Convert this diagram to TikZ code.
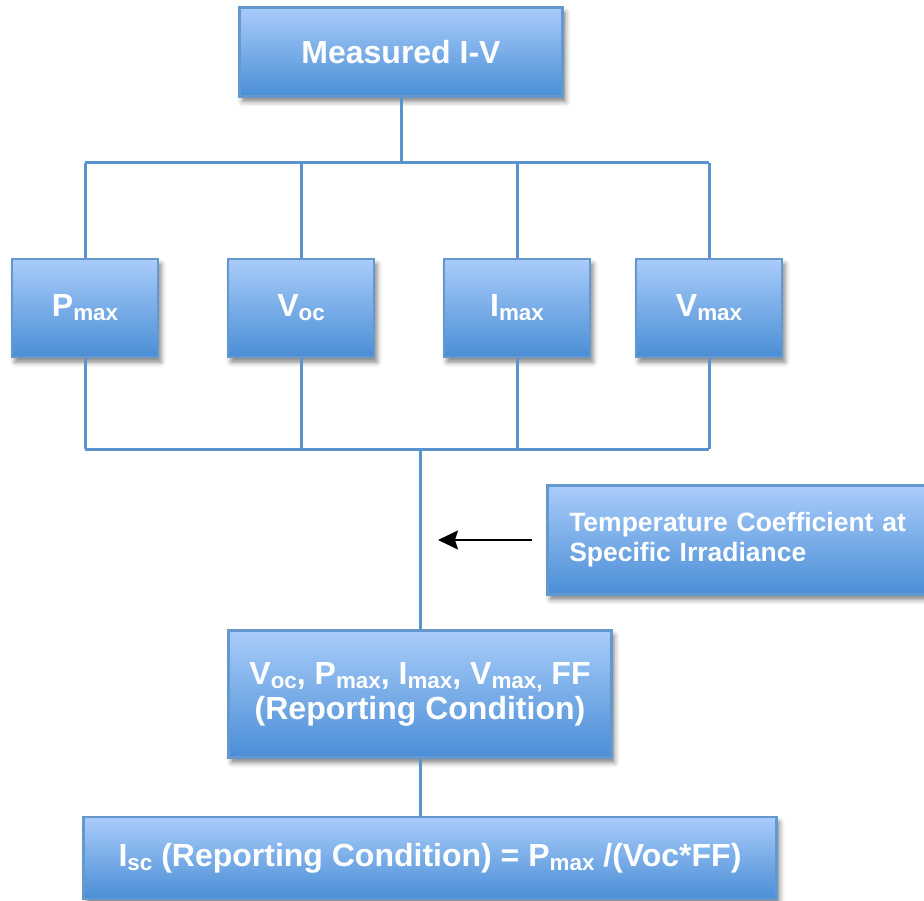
\documentclass[tikz,border=0pt]{standalone}
\usepackage{fontspec}
\setmainfont{Liberation Sans}
\usepackage{xcolor}
\usetikzlibrary{positioning, arrows.meta, shadows.blur}

\definecolor{boxtop}{HTML}{A9CCFA}
\definecolor{boxmid}{HTML}{7FAAE0}
\definecolor{boxbot}{HTML}{4A8ED6}
\definecolor{boxedge}{HTML}{6598CC}
\definecolor{linkblue}{HTML}{5B93CF}

\newcommand{\low}[1]{\raisebox{-0.13em}{\scalebox{0.7}{#1}}}

\begin{document}
\begin{tikzpicture}[x=1pt,y=-1pt,on grid,
    box/.style={draw=boxedge,line width=2.5pt,top color=boxtop,middle color=boxmid,bottom color=boxbot,
      blur shadow={shadow xshift=3pt,shadow yshift=-5pt,shadow blur radius=5pt,shadow opacity=50},
      text=white,font=\bfseries\fontsize{32}{35}\selectfont,inner sep=0pt,align=center},
    param/.style={box,minimum width=146pt,minimum height=98pt},
    link/.style={draw=linkblue,line width=3pt}]
  \useasboundingbox (0,0) rectangle (924,901);

  \node[box,minimum width=323pt,minimum height=89pt] (iv) at (401,52) {Measured I-V};

  \node[param] (pmax) at (85,308) {P\low{max}};
  \node[param] (voc) [right=216pt of pmax] {V\low{oc}};
  \node[param] (imax) [right=216pt of voc] {I\low{max}};
  \node[param] (vmax) [right=192pt of imax] {V\low{max}};

  \node[box,minimum width=385pt,minimum height=109pt,anchor=west,text width=341pt,inner xsep=22pt,
    align=left,font=\bfseries\fontsize{26.5}{30}\selectfont] (tcoef) at (546,540)
    {Temperature Coefficient at\\Specific Irradiance};

  \node[box,minimum width=383pt,minimum height=127pt] (report) at (420,694)
    {V\low{oc}, P\low{max}, I\low{max}, V\low{max,} FF\\(Reporting Condition)};
  \node[box,minimum width=693pt,minimum height=82pt] (isc) at (430,858)
    {I\low{sc} (Reporting Condition) = P\low{max} /(Voc*FF)};

  % bus lines
  \coordinate (upbus) at (401,163);
  \coordinate (lowbus) at (420,449);
  \coordinate (tip) at (438,540);

  \draw[link] (iv.south) -- (upbus);
  \draw[link] (pmax.north |- upbus) -- (vmax.north |- upbus);
  \draw[link] (pmax.south |- lowbus) -- (vmax.south |- lowbus);
  \foreach \p in {pmax,voc,imax,vmax} {
    \draw[link] (\p.north |- upbus) -- (\p.north);
    \draw[link] (\p.south) -- (\p.south |- lowbus);
  }
  \draw[link] (lowbus) -- (report.north);
  \draw[link] (report.south) -- (report.south |- isc.north);

  \draw[-{Stealth[length=20pt,width=19pt,inset=3pt]},line width=1.6pt,shorten <=14pt] (tcoef.west) -- (tip);
\end{tikzpicture}
\end{document}
